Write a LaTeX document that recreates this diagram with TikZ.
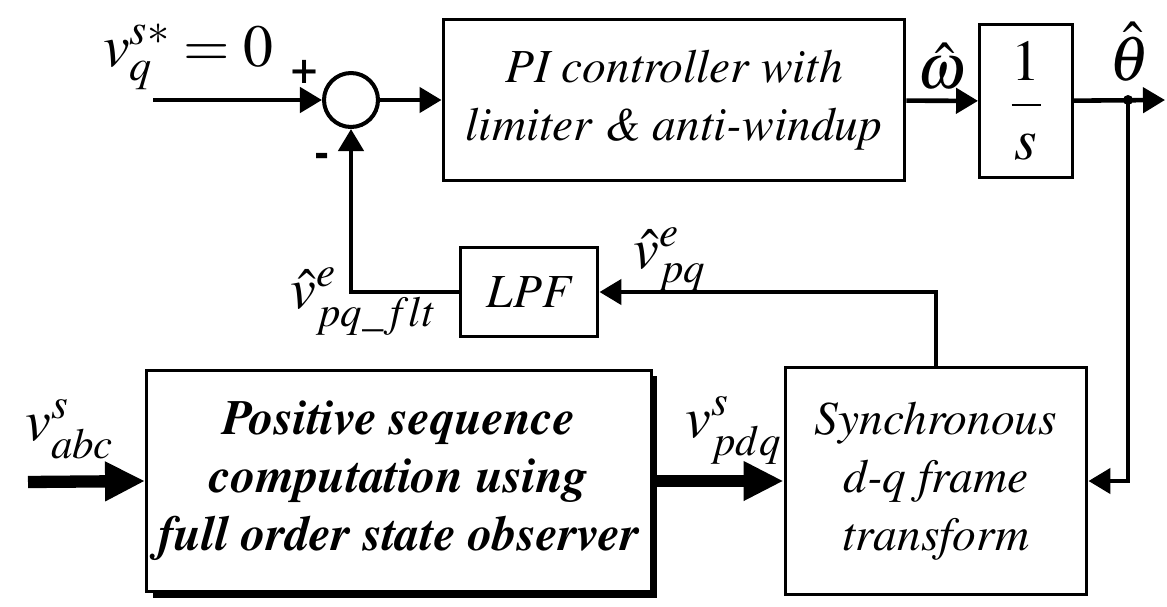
\documentclass[tikz,border=0pt]{standalone}
\usepackage{amsmath}
\usepackage[T1]{fontenc}
\usepackage{mathptmx}
\usepackage{tikz}
\usetikzlibrary{positioning,arrows.meta,shadows}

\begin{document}
\begin{tikzpicture}[x=0.02cm, y=-0.02cm,
  blk/.style={draw, line width=1.7pt, align=center, inner sep=2pt, fill=white,
              font=\fontsize{27}{33}\selectfont\itshape},
  sumnode/.style={draw, circle, line width=2.3pt, minimum size=1.08cm, inner sep=0pt},
  arr/.style={-{Triangle[length=0.44cm, width=0.5cm]}, line width=2.6pt},
  bigarr/.style={-{Triangle[length=0.8cm, width=0.74cm]}, line width=7pt},
  lbl/.style={font=\fontsize{33}{36}\selectfont, inner sep=0pt},
  sgn/.style={font=\fontsize{26}{26}\selectfont\bfseries, inner sep=0pt},
]
\useasboundingbox (0,0) rectangle (1167,606);

% --- Top: PI loop and integrator ---
\node[sumnode] (sum) at (351,100) {};
\node[blk, minimum width=9.24cm, minimum height=3.24cm] (pi) at (674,100)
  {PI controller with\\limiter \& anti-windup};
\node[blk, minimum width=1.86cm, minimum height=3.06cm,
      font=\fontsize{33}{36}\selectfont] (integ) at (1026,101) {$\dfrac{1}{s}$};
\node[blk, minimum width=2.76cm, minimum height=1.78cm] (lpf) at (529,292) {LPF};

% --- Bottom: observer and frame transform ---
\node[blk, minimum width=10.1cm, minimum height=4.44cm,
      font=\fontsize{28}{33}\selectfont\bfseries\itshape,
      drop shadow={shadow xshift=0.12cm, shadow yshift=-0.12cm, fill=black, opacity=1}]
  (obs) at (399,481) {Positive sequence\\computation using\\full order state observer};
\node[blk, minimum width=6.04cm, minimum height=4.54cm] (sync) at (936,481)
  {Synchronous\\d-q frame\\transform};

\coordinate (vin) at (153,100);
\coordinate (thout) at (1165,100);
\coordinate (tap) at (1128,100);
\coordinate (abcin) at (28,482);

\draw[arr] (vin) -- (sum);
\draw[arr] (sum) -- (pi);
\draw[arr] (pi) -- (integ);
\draw[arr] (integ) -- (thout);
\fill (tap) circle (0.1cm);
\draw[arr] (tap) |- (sync.east);
\draw[arr] (sync.north) |- (lpf.east);
\draw[arr] (lpf.west) -| (sum.south);
\draw[bigarr] (abcin) -- (obs.west);
\draw[bigarr] (obs.east) -- (sync.west);

% labels
\node[lbl, anchor=base west, font=\fontsize{34}{36}\selectfont] (vqref) at (103,66)
  {$v_{q}^{s*} = 0$};
\node[sgn] (plus) at (305,72) {+};
\node[sgn] (minus) at (322,160) {-};
\node[lbl, font=\fontsize{36}{40}\selectfont] (omega) at (942,66) {$\hat{\omega}$};
\node[lbl, anchor=base, font=\fontsize{36}{40}\selectfont] (theta) at (1130,80) {$\hat{\theta}$};
\node[lbl, anchor=base west] (vflt) at (290,308) {$\hat{v}^{e}_{pq\_flt}$};
\node[lbl, anchor=base west] (vpq) at (633,268) {$\hat{v}^{e}_{pq}$};
\node[lbl, anchor=base west] (vabc) at (25,440) {$v^{s}_{abc}$};
\node[lbl, anchor=base west] (vpdq) at (685,437) {$v^{s}_{pdq}$};
\end{tikzpicture}
\end{document}
